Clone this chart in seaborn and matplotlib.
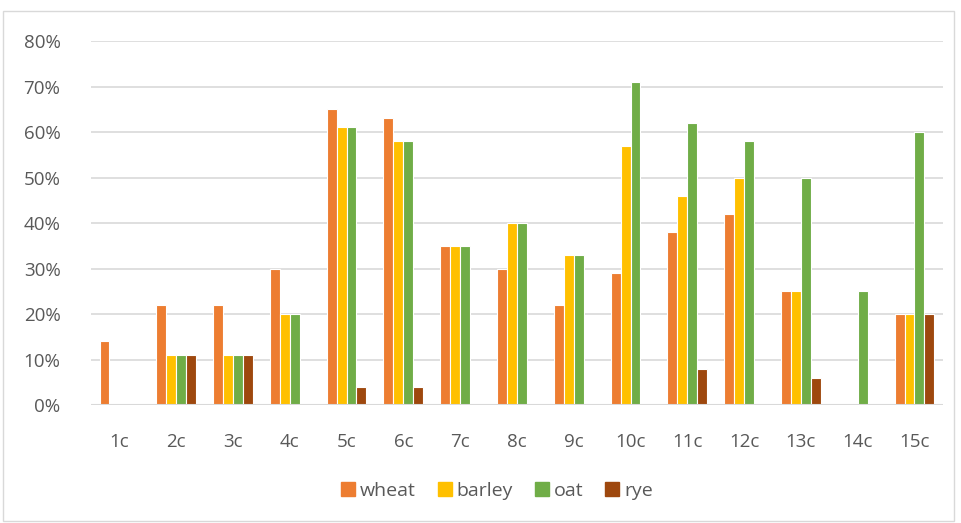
import matplotlib
matplotlib.use("Agg")
import matplotlib.pyplot as plt
import seaborn as sns
import pandas as pd
import numpy as np
from matplotlib.patches import Rectangle
from matplotlib.ticker import FuncFormatter
from matplotlib.lines import Line2D

categories = ["1c", "2c", "3c", "4c", "5c", "6c", "7c", "8c", "9c", "10c", "11c", "12c", "13c", "14c", "15c"]
wheat = [14, 22, 22, 30, 65, 63, 35, 30, 22, 29, 38, 42, 25, 0, 20]
barley = [0, 11, 11, 20, 61, 58, 35, 40, 33, 57, 46, 50, 25, 0, 20]
oat = [0, 11, 11, 20, 61, 58, 35, 40, 33, 71, 62, 58, 50, 25, 60]
rye = [0, 11, 11, 0, 4, 4, 0, 0, 0, 0, 8, 0, 6, 0, 20]
series_names = ["wheat", "barley", "oat", "rye"]
colors = ["#ED7D31", "#FFC000", "#70AD47", "#9E480E"]

rows = []
for name, vals in zip(series_names, [wheat, barley, oat, rye]):
    for c, v in zip(categories, vals):
        rows.append({"cat": c, "series": name, "val": v / 100})
df = pd.DataFrame(rows)

sns.set_theme(style="white")
plt.rcParams['font.family'] = ['Open Sans', 'DejaVu Sans']

fig = plt.figure(figsize=(9.62, 5.23), dpi=100)
ax = fig.add_axes([0.0946, 0.2256, 0.8855, 0.696])

sns.barplot(data=df, x="cat", y="val", hue="series", order=categories,
            hue_order=series_names, palette=colors, width=0.7, saturation=1,
            edgecolor="white", linewidth=0.8, ax=ax, legend=True)

ax.set_ylim(0, 0.8)
ax.set_yticks(np.arange(0, 0.81, 0.1))
ax.yaxis.set_major_formatter(FuncFormatter(lambda v, p: f"{v*100:.0f}%"))
ax.set_axisbelow(True)
ax.grid(axis="y", color="#D9D9D9", linewidth=1.2)
ax.axhline(0, color="#D9D9D9", linewidth=1.5, zorder=5)
for s in ax.spines.values():
    s.set_visible(False)
ax.set_xlabel("")
ax.set_ylabel("")
ax.tick_params(axis="both", length=0, labelsize=13.5, labelcolor="#595959")
ax.tick_params(axis="y", pad=22)
ax.tick_params(axis="x", pad=20)
ax.set_xlim(-0.5, len(categories) - 0.5)

ax.legend_.remove()
h2 = [Line2D([0], [0], marker="s", color="none", markerfacecolor=c, markeredgecolor=c,
             markersize=10) for c in colors]
fig.legend(h2, series_names, loc="center", bbox_to_anchor=(0.515, 0.061), ncol=4,
           frameon=False, fontsize=14, handletextpad=0.1, columnspacing=1.0,
           handlelength=1.0, labelcolor="#595959")

fig.patches.append(Rectangle((0.003, 0.004), 0.989, 0.975, transform=fig.transFigure,
                             fill=False, edgecolor="#D9D9D9", linewidth=1))

fig.savefig("out.png", dpi=100)
